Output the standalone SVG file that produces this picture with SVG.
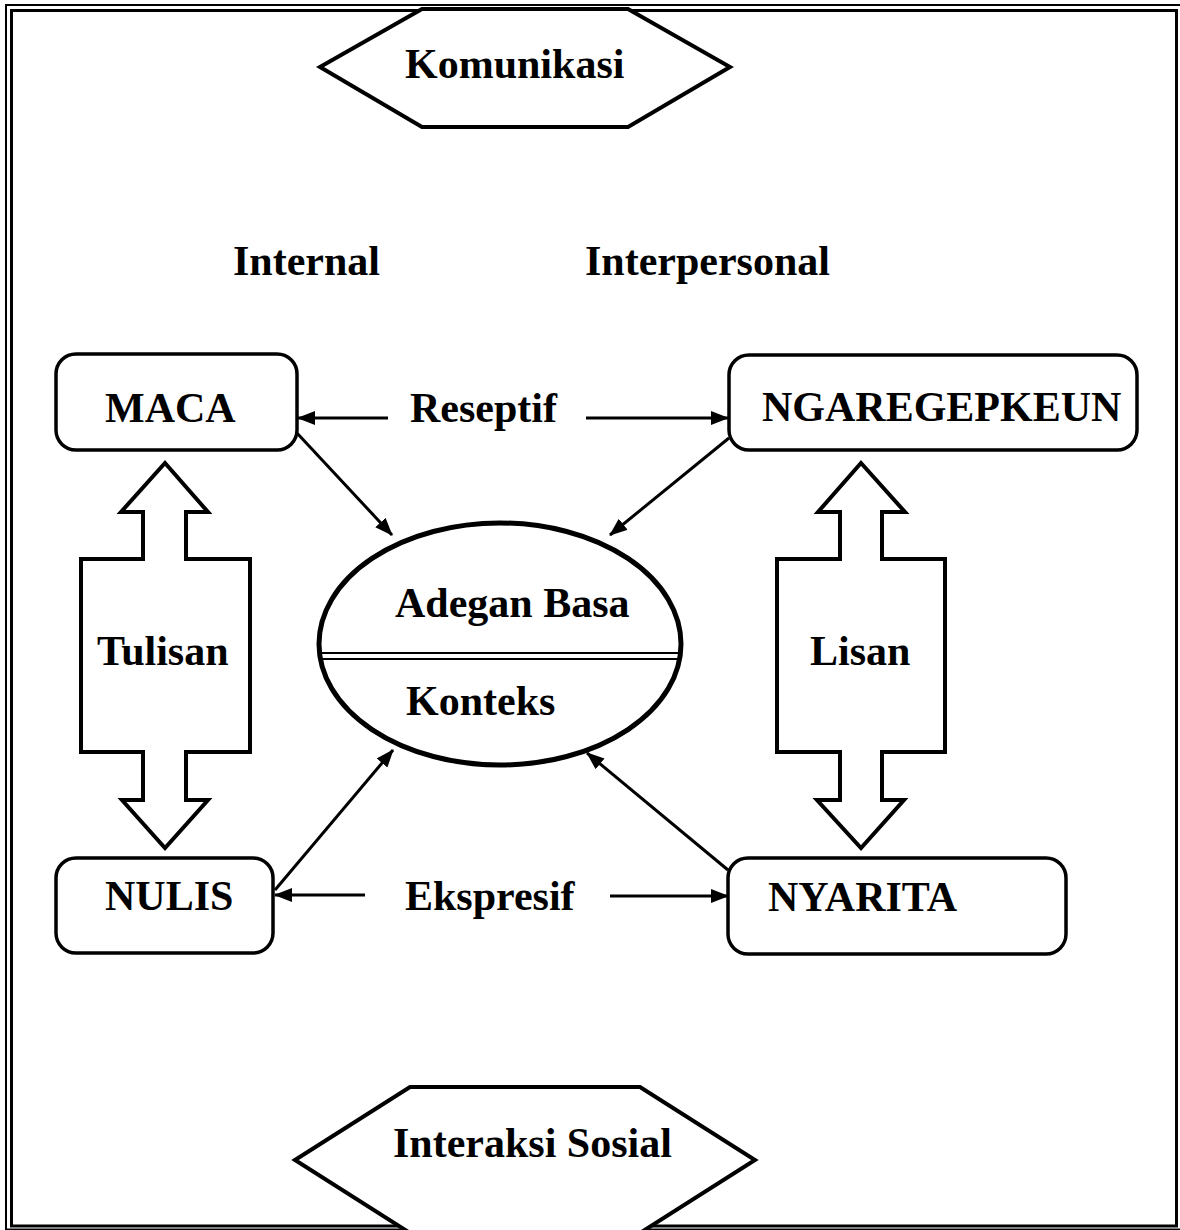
<svg xmlns="http://www.w3.org/2000/svg" width="1180" height="1230" viewBox="0 0 1180 1230">
<style>
text{font-family:"Liberation Serif","Times New Roman",serif;font-weight:bold;font-size:42px;fill:#000}
.box{fill:#fff;stroke:#000;stroke-width:3.5}
.hex{fill:#fff;stroke:#000;stroke-width:4}
.blk{fill:#fff;stroke:#000;stroke-width:4;stroke-linejoin:miter}
.con{stroke:#000;stroke-width:3;fill:none;marker-end:url(#ah)}
</style>
<defs>
<marker id="ah" markerUnits="userSpaceOnUse" markerWidth="18" markerHeight="14" refX="17" refY="7" orient="auto">
<path d="M0,0 L18,7 L0,14 Z" fill="#000"/>
</marker>
</defs>
<rect width="1180" height="1230" fill="#fff"/>
<g id="border" fill="none" stroke="#000">
<rect x="6" y="5" width="1180" height="1224.5" stroke-width="2"/>
<rect x="11.5" y="10.5" width="1165" height="1215.5" stroke-width="3"/>
</g>
<g id="komunikasi">
<polygon class="hex" points="320,67 422,9 628,9 730,67 628,127 422,127"/>
<text x="405" y="78">Komunikasi</text>
</g>
<g id="internal"><text x="233" y="275">Internal</text></g>
<g id="interpersonal"><text x="585" y="275">Interpersonal</text></g>
<g id="tulisan">
<path class="blk" d="M165,463 L208,512 L186,512 L186,559 L250,559 L250,752 L186,752 L186,800 L208,800 L165,848 L122,800 L143,800 L143,752 L81,752 L81,559 L143,559 L143,512 L121,512 Z"/>
<text x="97" y="665">Tulisan</text>
</g>
<g id="lisan">
<path class="blk" d="M861,463 L905,512 L882,512 L882,559 L945,559 L945,752 L882,752 L882,800 L904,800 L861,848 L817,800 L840,800 L840,752 L777,752 L777,559 L840,559 L840,512 L818,512 Z"/>
<text x="810" y="665">Lisan</text>
</g>
<g id="maca">
<rect class="box" x="56" y="354" width="241" height="96" rx="20"/>
<text x="105" y="422">MACA</text>
</g>
<g id="ngaregepkeun">
<rect class="box" x="729" y="355" width="408" height="95" rx="20"/>
<text x="762" y="421">NGAREGEPKEUN</text>
</g>
<g id="nulis">
<rect class="box" x="56" y="858" width="217" height="95" rx="20"/>
<text x="105" y="910">NULIS</text>
</g>
<g id="nyarita">
<rect class="box" x="728" y="858" width="338" height="96" rx="20"/>
<text x="768" y="911">NYARITA</text>
</g>
<g id="adegan-basa">
<ellipse cx="500" cy="644" rx="181" ry="121" fill="#fff" stroke="#000" stroke-width="5"/>
<line x1="321" y1="653" x2="679" y2="653" stroke="#000" stroke-width="2"/>
<line x1="321" y1="659" x2="679" y2="659" stroke="#000" stroke-width="2"/>
<text x="395" y="617">Adegan Basa</text>
<text x="406" y="715">Konteks</text>
</g>
<g id="reseptif"><text x="410" y="422">Reseptif</text></g>
<g id="ekspresif"><text x="405" y="910">Ekspresif</text></g>
<g id="interaksi-sosial">
<polygon class="hex" points="295,1160 410,1087 640,1087 755,1160 640,1233 410,1233"/>
<text x="393" y="1157">Interaksi Sosial</text>
</g>
<g id="connectors">
<line class="con" x1="388" y1="418" x2="298" y2="418"/>
<line class="con" x1="586" y1="418" x2="728" y2="418"/>
<line class="con" x1="365" y1="895" x2="275" y2="895"/>
<line class="con" x1="610" y1="896" x2="728" y2="896"/>
<line class="con" x1="296" y1="432" x2="392" y2="535"/>
<line class="con" x1="729" y1="438" x2="610" y2="535"/>
<line class="con" x1="275" y1="890" x2="393" y2="750"/>
<line class="con" x1="728" y1="870" x2="587" y2="753"/>
</g>
</svg>
